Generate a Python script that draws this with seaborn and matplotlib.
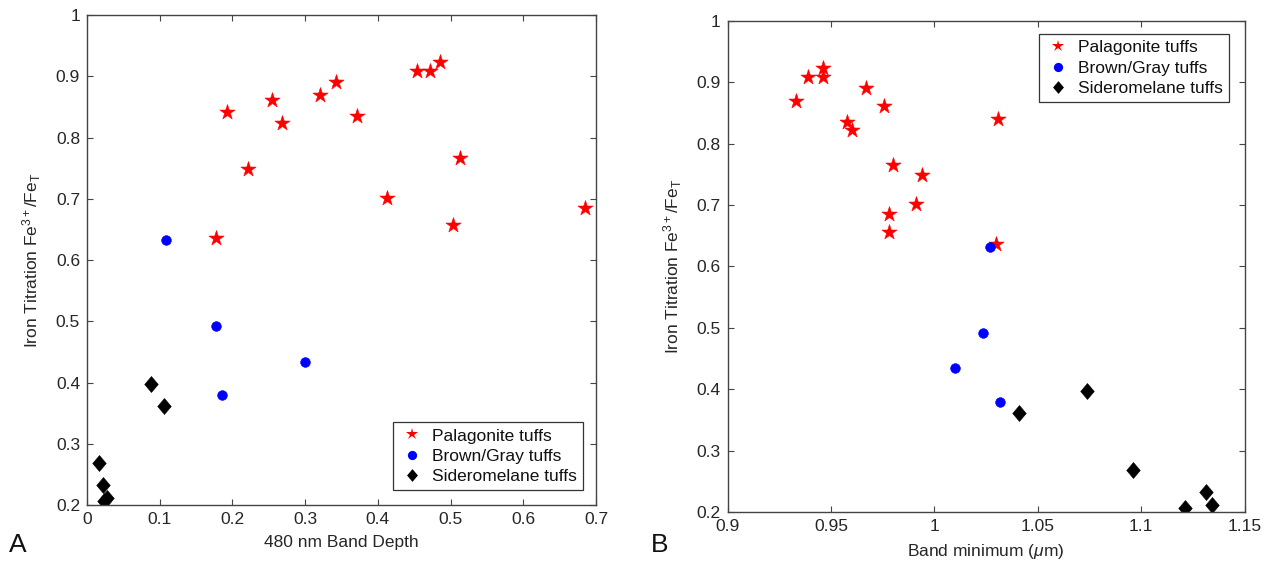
import numpy as np
import pandas as pd
import matplotlib
matplotlib.use("Agg")
import matplotlib.pyplot as plt
from matplotlib.lines import Line2D
from matplotlib.path import Path
import seaborn as sns

# ---------------- data ----------------
groups = ["Palagonite tuffs", "Brown/Gray tuffs", "Sideromelane tuffs"]

# Palagonite tuffs
pal_fe = [0.636, 0.841, 0.749, 0.862, 0.823, 0.870, 0.890, 0.835, 0.702,
          0.908, 0.908, 0.924, 0.766, 0.657, 0.685]
pal_depth = [0.177, 0.193, 0.221, 0.255, 0.268, 0.320, 0.343, 0.371, 0.412,
             0.454, 0.472, 0.485, 0.513, 0.504, 0.685]
pal_bmin = [1.0298, 1.0306, 0.9940, 0.9757, 0.9601, 0.9330, 0.9670, 0.9577, 0.9911,
            0.9388, 0.9461, 0.9461, 0.9800, 0.9782, 0.9782]

# Brown/Gray tuffs
bg_fe = [0.632, 0.492, 0.434, 0.380]
bg_depth = [0.109, 0.177, 0.300, 0.186]
bg_bmin = [1.0267, 1.0233, 1.0101, 1.0318]

# Sideromelane tuffs
sid_fe = [0.397, 0.361, 0.268, 0.232, 0.212, 0.207]
sid_depth = [0.088, 0.106, 0.017, 0.0225, 0.027, 0.024]
sid_bmin = [1.0739, 1.0407, 1.0960, 1.1312, 1.1341, 1.1210]

x_ticks_a = [0, 0.1, 0.2, 0.3, 0.4, 0.5, 0.6, 0.7]
x_ticks_b = [0.9, 0.95, 1.0, 1.05, 1.1, 1.15]
y_ticks = [0.2, 0.3, 0.4, 0.5, 0.6, 0.7, 0.8, 0.9, 1.0]

df = pd.DataFrame({
    "group": [groups[0]] * len(pal_fe) + [groups[1]] * len(bg_fe) + [groups[2]] * len(sid_fe),
    "fe": pal_fe + bg_fe + sid_fe,
    "depth": pal_depth + bg_depth + sid_depth,
    "bmin": pal_bmin + bg_bmin + sid_bmin,
})

# ---------------- style ----------------
sns.set_theme(style="white")
plt.rcParams["font.family"] = ["Liberation Sans", "DejaVu Sans"]
plt.rcParams["mathtext.fontset"] = "custom"
plt.rcParams["mathtext.rm"] = "Liberation Sans"
plt.rcParams["mathtext.it"] = "Liberation Sans:italic"
plt.rcParams["mathtext.bf"] = "Liberation Sans:bold"

diamond = Path([(0, 1), (0.85, 0), (0, -1), (-0.85, 0), (0, 1)],
               [Path.MOVETO, Path.LINETO, Path.LINETO, Path.LINETO, Path.CLOSEPOLY])
palette = {groups[0]: "#ff0000", groups[1]: "#0000ff", groups[2]: "#000000"}
markers = {groups[0]: "*", groups[1]: "o", groups[2]: diamond}
sizes_pt = {groups[0]: 11.5, groups[1]: 7.0, groups[2]: 11.5}

fig = plt.figure(figsize=(12.64, 5.64), dpi=100)
axA = fig.add_axes([0.0688, 0.1046, 0.4027, 0.8688])
axB = fig.add_axes([0.5756, 0.0922, 0.4090, 0.8706])

ylabel = r"Iron Titration Fe$^{3+}$/Fe$_{\mathrm{T}}$"
txt_color = "#262626"

for ax, xcol, xlim, xticks, xlabel in [
    (axA, "depth", (0, 0.7), x_ticks_a, "480 nm Band Depth"),
    (axB, "bmin", (0.9, 1.15), x_ticks_b, r"Band minimum ($\mu$m)"),
]:
    for g in groups:
        sub = df[df["group"] == g]
        sns.scatterplot(data=sub, x=xcol, y="fe", ax=ax, color=palette[g],
                        marker=markers[g], s=sizes_pt[g] ** 2, linewidth=0.4,
                        edgecolor=palette[g], legend=False)
    ax.set_xlim(*xlim)
    ax.set_ylim(0.2, 1.0)
    ax.set_xticks(xticks)
    ax.set_xticklabels([f"{v:g}" for v in xticks])
    ax.set_yticks(y_ticks)
    ax.set_yticklabels([f"{v:g}" for v in y_ticks])
    ax.tick_params(direction="in", length=4, width=0.8, top=True, right=True,
                   bottom=True, left=True, labelsize=12.5, colors="#444444",
                   labelcolor=txt_color, pad=5)
    for sp in ax.spines.values():
        sp.set_visible(True)
        sp.set_color("#444444")
        sp.set_linewidth(1.0)
    ax.set_xlabel(xlabel, fontsize=12.5, color=txt_color, labelpad=6)
    ax.set_ylabel(ylabel, fontsize=12.5, color=txt_color, labelpad=9)

handles = [Line2D([], [], linestyle="none", marker=markers[g], color=palette[g],
                  markeredgewidth=0, markersize=sizes_pt[g] * (0.8 if g != groups[1] else 0.95))
           for g in groups]

legA = axA.legend(handles, groups, loc="lower right", bbox_to_anchor=(0.975, 0.03),
                  frameon=True, fancybox=False, fontsize=12.5, labelspacing=0.3,
                  handletextpad=0.4, borderpad=0.35, handlelength=1.5,
                  borderaxespad=0)
legB = axB.legend(handles, groups, loc="upper right", bbox_to_anchor=(0.97, 0.973),
                  frameon=True, fancybox=False, fontsize=12.5, labelspacing=0.3,
                  handletextpad=0.4, borderpad=0.35, handlelength=1.5,
                  borderaxespad=0)
for leg in (legA, legB):
    fr = leg.get_frame()
    fr.set_edgecolor("#333333")
    fr.set_linewidth(0.9)
    fr.set_alpha(1)
    for t in leg.get_texts():
        t.set_color("#111111")

fig.text(0.014, 0.034, "A", fontsize=19, ha="center", va="center", color="#111111")
fig.text(0.522, 0.034, "B", fontsize=19, ha="center", va="center", color="#111111")

fig.savefig("out.png", dpi=100)
